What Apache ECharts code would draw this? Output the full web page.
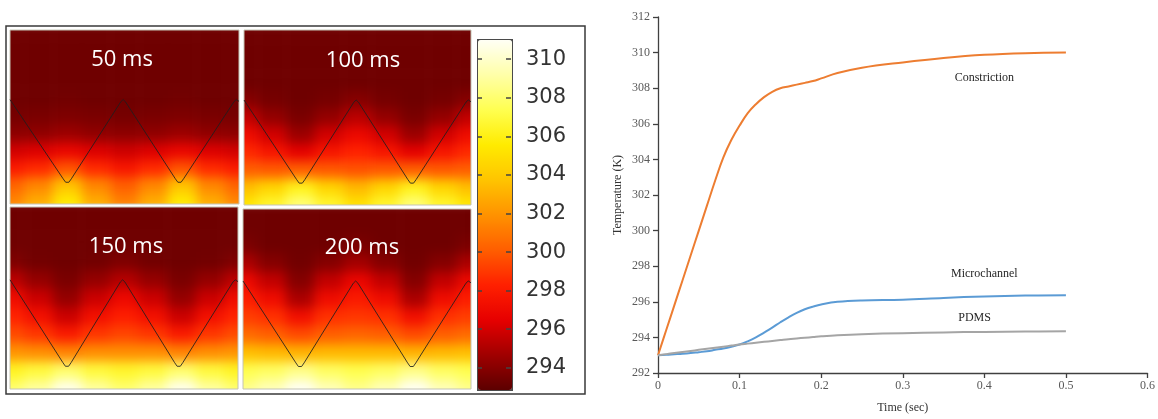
<!DOCTYPE html>
<html>
<head>
<meta charset="utf-8">
<title>Temperature</title>
<script src="https://cdn.jsdelivr.net/npm/echarts@6/dist/echarts.min.js"></script>
<style>
  html, body { margin: 0; padding: 0; background: #fff; }
  #page { position: relative; width: 1158px; height: 419px; overflow: hidden; }
  .panel { position: absolute; overflow: hidden; }
  .panel .heat { position: absolute; filter: blur(6px); }
  #main { position: absolute; left: 0; top: 0; width: 1158px; height: 419px; }
</style>
</head>
<body>
<div id="page">
  <div id="panels"></div>
  <div id="main"></div>
</div>
<script>
// ---- data ----
var tempMin = 292.9, tempMax = 311.05;
var tempColors = ['#5c0000', '#a00000', '#e60000', '#ff2000', '#ff5e00', '#ff9200',
                  '#ffc400', '#ffeb00', '#ffff50', '#ffffa8', '#fffff5'];
var colorbarTicks = [294, 296, 298, 300, 302, 304, 306, 308, 310];

var panelLabels = ['50 ms', '100 ms', '150 ms', '200 ms'];
var fieldCols = ['0', '0.125', '0.25', '0.375', '0.5', '0.625', '0.75', '0.875', '1'];
var fieldRows = ['0', '0.1', '0.2', '0.3', '0.4', '0.5', '0.6', '0.7', '0.8', '0.9', '1'];

// temperature (K), rows top -> bottom
var field50 = [
  [293.4, 293.4, 293.4, 293.4, 293.4, 293.4, 293.4, 293.4, 293.4],
  [293.4, 293.4, 293.4, 293.4, 293.4, 293.4, 293.4, 293.4, 293.4],
  [293.4, 293.4, 293.4, 293.4, 293.4, 293.4, 293.4, 293.4, 293.4],
  [293.4, 293.4, 293.4, 293.4, 293.4, 293.4, 293.4, 293.4, 293.4],
  [293.4, 293.4, 293.5, 293.4, 293.4, 293.4, 293.5, 293.4, 293.4],
  [293.6, 293.7, 293.8, 293.7, 293.6, 293.7, 293.8, 293.7, 293.6],
  [294.2, 294.3, 294.6, 294.3, 294.2, 294.3, 294.6, 294.3, 294.2],
  [296.0, 296.3, 296.8, 296.3, 295.9, 296.3, 296.8, 296.3, 296.0],
  [298.0, 298.6, 299.8, 298.6, 297.8, 298.6, 299.8, 298.6, 298.0],
  [300.4, 301.6, 303.8, 301.6, 300.2, 301.6, 303.8, 301.6, 300.4],
  [301.6, 303.0, 305.6, 303.0, 301.4, 303.0, 305.6, 303.0, 301.6]
];
var field100 = [
  [293.4, 293.4, 293.4, 293.4, 293.4, 293.4, 293.4, 293.4, 293.4],
  [293.4, 293.4, 293.4, 293.4, 293.4, 293.4, 293.4, 293.4, 293.4],
  [293.4, 293.4, 293.4, 293.4, 293.4, 293.4, 293.4, 293.4, 293.4],
  [293.4, 293.4, 293.4, 293.4, 293.4, 293.4, 293.4, 293.4, 293.4],
  [294.0, 293.6, 293.4, 293.6, 294.0, 293.6, 293.4, 293.6, 294.0],
  [295.6, 294.4, 293.7, 294.4, 295.4, 294.4, 293.7, 294.4, 295.6],
  [297.2, 296.0, 294.6, 296.0, 297.0, 296.0, 294.6, 296.0, 297.2],
  [298.6, 297.8, 296.6, 297.8, 298.4, 297.8, 296.6, 297.8, 298.6],
  [300.2, 300.0, 300.2, 300.0, 299.8, 300.0, 300.2, 300.0, 300.2],
  [303.6, 304.6, 306.2, 304.6, 303.4, 304.6, 306.2, 304.6, 303.6],
  [305.4, 306.6, 308.2, 306.6, 305.2, 306.6, 308.2, 306.6, 305.4]
];
var field150 = [
  [293.4, 293.4, 293.4, 293.4, 293.4, 293.4, 293.4, 293.4, 293.4],
  [293.4, 293.4, 293.4, 293.4, 293.4, 293.4, 293.4, 293.4, 293.4],
  [293.4, 293.4, 293.4, 293.4, 293.4, 293.4, 293.4, 293.4, 293.4],
  [293.8, 293.5, 293.4, 293.5, 293.8, 293.5, 293.4, 293.5, 293.8],
  [295.4, 294.4, 293.7, 294.4, 295.2, 294.4, 293.7, 294.4, 295.4],
  [297.2, 295.8, 294.4, 295.8, 297.0, 295.8, 294.4, 295.8, 297.2],
  [298.4, 297.4, 295.8, 297.4, 298.2, 297.4, 295.8, 297.4, 298.4],
  [299.6, 299.0, 298.0, 299.0, 299.4, 299.0, 298.0, 299.0, 299.6],
  [302.0, 301.8, 301.4, 301.8, 301.8, 301.8, 301.4, 301.8, 302.0],
  [306.4, 307.0, 308.0, 307.0, 306.6, 307.0, 308.0, 307.0, 306.4],
  [308.0, 309.0, 310.8, 309.0, 308.0, 309.0, 310.8, 309.0, 308.0]
];
var field200 = [
  [293.4, 293.4, 293.4, 293.4, 293.4, 293.4, 293.4, 293.4, 293.4],
  [293.4, 293.4, 293.4, 293.4, 293.4, 293.4, 293.4, 293.4, 293.4],
  [293.7, 293.4, 293.4, 293.4, 293.7, 293.4, 293.4, 293.4, 293.7],
  [295.0, 294.0, 293.5, 294.0, 294.8, 294.0, 293.5, 294.0, 295.0],
  [297.0, 295.6, 294.0, 295.6, 296.8, 295.6, 294.0, 295.6, 297.0],
  [298.2, 297.2, 295.0, 297.2, 298.0, 297.2, 295.0, 297.2, 298.2],
  [299.2, 298.8, 297.4, 298.8, 299.0, 298.8, 297.4, 298.8, 299.2],
  [300.6, 300.2, 299.6, 300.2, 300.4, 300.2, 299.6, 300.2, 300.6],
  [303.6, 303.4, 303.2, 303.4, 303.4, 303.4, 303.2, 303.4, 303.6],
  [307.4, 307.8, 308.6, 307.8, 307.4, 307.8, 308.6, 307.8, 307.4],
  [308.6, 309.6, 311.0, 309.6, 308.6, 309.6, 311.0, 309.6, 308.6]
];
var fields = [field50, field100, field150, field200];

// zig-zag channel outline, panel fractions (y measured from the top)
var channelX = [0, 0.232, 0.243, 0.250, 0.257, 0.268, 0.484, 0.494, 0.504,
                0.722, 0.733, 0.740, 0.747, 0.758, 0.978, 0.988, 1.0];
var channelY = [0.400, 0.855, 0.875, 0.880, 0.875, 0.855, 0.412, 0.400, 0.412,
                0.855, 0.875, 0.880, 0.875, 0.855, 0.412, 0.400, 0.410];

// line chart
var timeSec = [0, 0.01, 0.02, 0.03, 0.04, 0.05, 0.06, 0.07, 0.08, 0.09, 0.10, 0.11, 0.12, 0.13,
               0.14, 0.15, 0.16, 0.17, 0.18, 0.19, 0.20, 0.22, 0.25, 0.30, 0.35, 0.40, 0.45, 0.50];
var constriction = [293.0, 294.4, 295.8, 297.2, 298.6, 300.0, 301.4, 302.8, 304.1, 305.1, 305.9, 306.6,
                    307.1, 307.5, 307.8, 308.0, 308.1, 308.2, 308.3, 308.4, 308.55, 308.85, 309.15,
                    309.45, 309.7, 309.88, 309.97, 310.0];
var microchannel = [293.0, 293.02, 293.05, 293.08, 293.12, 293.17, 293.22, 293.3, 293.38, 293.48, 293.6,
                    293.78, 294.0, 294.27, 294.55, 294.85, 295.13, 295.38, 295.58, 295.73, 295.85,
                    296.0, 296.08, 296.12, 296.22, 296.3, 296.35, 296.37];
var pdms = [293.0, 293.06, 293.12, 293.18, 293.24, 293.3, 293.36, 293.42, 293.48, 293.54, 293.6,
            293.65, 293.7, 293.75, 293.8, 293.85, 293.9, 293.94, 293.98, 294.02, 294.06,
            294.12, 294.18, 294.24, 294.28, 294.31, 294.33, 294.35];
var seriesNames = ['Constriction', 'Microchannel', 'PDMS'];
var seriesColors = ['#ed7d31', '#5b9bd5', '#a5a5a5'];

// ---- layout ----
var panelBoxes = [[10, 30, 229, 174], [244, 30, 227, 175], [10, 207, 228, 182], [243, 209, 228, 180]];
var labelPos = [[122, 60], [363, 61], [126, 247], [362, 248]];
var nameAt = [[0.4, 308.57], [0.4, 297.56], [0.388, 295.1]];
var serif = 'Liberation Serif';

// ---- heat panels (one small chart each, softened by a css blur) ----
var holder = document.getElementById('panels');
panelBoxes.forEach(function (b, i) {
  var wrap = document.createElement('div');
  wrap.className = 'panel';
  wrap.style.left = b[0] + 'px';
  wrap.style.top = b[1] + 'px';
  wrap.style.width = b[2] + 'px';
  wrap.style.height = b[3] + 'px';
  var heat = document.createElement('div');
  heat.className = 'heat';
  heat.style.left = (-b[2] / 16) + 'px';
  heat.style.top = (-b[3] / 20) + 'px';
  heat.style.width = (b[2] * 9 / 8) + 'px';
  heat.style.height = (b[3] * 11 / 10) + 'px';
  wrap.appendChild(heat);
  holder.appendChild(wrap);

  var cells = [];
  fields[i].forEach(function (row, r) {
    row.forEach(function (v, c) { cells.push([c, r, v]); });
  });
  var chart = echarts.init(heat);
  chart.setOption({
    animation: false,
    grid: { left: 0, right: 0, top: 0, bottom: 0 },
    xAxis: { type: 'category', data: fieldCols, show: false },
    yAxis: { type: 'category', data: fieldRows, inverse: true, show: false },
    visualMap: { show: false, min: tempMin, max: tempMax, inRange: { color: tempColors } },
    series: [{ type: 'heatmap', data: cells, silent: true }]
  });
});

// ---- overlay: channel lines, labels, colorbar, line chart ----
var main = echarts.init(document.getElementById('main'));

var grids = [{ left: 658, right: 7, top: 17, bottom: 46 }];
var xAxes = [{
  type: 'value', gridIndex: 0, min: 0, max: 0.6, interval: 0.1,
  name: 'Time (sec)', nameLocation: 'middle', nameGap: 29,
  nameTextStyle: { fontFamily: serif, fontSize: 12, color: '#333' },
  axisLine: { lineStyle: { color: '#404040', width: 1.3 } },
  axisTick: { show: true, length: 5, lineStyle: { color: '#404040', width: 1.3 } },
  axisLabel: { fontFamily: serif, fontSize: 12, color: '#595959', margin: 7 },
  splitLine: { show: false }
}];
var yAxes = [{
  type: 'value', gridIndex: 0, min: 292, max: 312, interval: 2,
  name: 'Temperature (K)', nameLocation: 'middle', nameGap: 34, nameRotate: 90,
  nameTextStyle: { fontFamily: serif, fontSize: 12, color: '#333' },
  axisLine: { show: true, lineStyle: { color: '#404040', width: 1.3 } },
  axisTick: { show: true, length: 5, lineStyle: { color: '#404040', width: 1.3 } },
  axisLabel: { fontFamily: serif, fontSize: 12, color: '#595959', margin: 8 },
  splitLine: { show: false }
}];
var series = [];
var graphics = [{
  type: 'rect', shape: { x: 6, y: 26, width: 579, height: 368 },
  style: { fill: 'none', stroke: '#3a3a3a', lineWidth: 1.5 }, silent: true
}];

panelBoxes.forEach(function (b, i) {
  grids.push({ left: b[0], top: b[1], width: b[2], height: b[3], show: true,
               borderColor: '#c4c4b4', borderWidth: 1, backgroundColor: 'transparent' });
  xAxes.push({ type: 'value', gridIndex: i + 1, min: 0, max: 1, show: false });
  yAxes.push({ type: 'value', gridIndex: i + 1, min: 0, max: 1, inverse: true, show: false });
  series.push({
    type: 'line', xAxisIndex: i + 1, yAxisIndex: i + 1, silent: true,
    symbol: 'none', data: channelX.map(function (x, k) { return [x, channelY[k]]; }),
    lineStyle: { color: '#1e1e1e', width: 1, opacity: 0.85 }
  });
  graphics.push({
    type: 'text', x: labelPos[i][0], y: labelPos[i][1], silent: true,
    style: { text: panelLabels[i], fill: '#fff', font: '22px "Open Sans"',
             textAlign: 'center', textVerticalAlign: 'middle' }
  });
});

// colorbar axes sit on top of the visualMap bar
grids.push({ left: 477, top: 39, width: 34, height: 350 });
xAxes.push({ type: 'value', gridIndex: 5, show: false });
function barAxis(side, showLabel) {
  return {
    type: 'value', gridIndex: 5, min: tempMin, max: tempMax, z: 10, position: side,
    axisLine: { show: false }, splitLine: { show: false },
    axisTick: { show: true, inside: true, length: 5, customValues: colorbarTicks,
                lineStyle: { color: '#444', width: 1.5 } },
    axisLabel: { show: true, customValues: colorbarTicks, margin: 15,
                 fontFamily: 'DejaVu Sans', fontSize: 21,
                 color: showLabel ? '#333' : 'rgba(0,0,0,0)' }
  };
}
yAxes.push(barAxis('left', false));
yAxes.push(barAxis('right', true));

[constriction, microchannel, pdms].forEach(function (vals, i) {
  series.push({
    name: seriesNames[i], type: 'line', xAxisIndex: 0, yAxisIndex: 0,
    symbol: 'none', smooth: 0.4,
    data: timeSec.map(function (t, k) { return [t, vals[k]]; }),
    lineStyle: { color: seriesColors[i], width: 2 },
    itemStyle: { color: seriesColors[i] },
    markPoint: {
      symbol: 'rect', symbolSize: 1, silent: true,
      itemStyle: { color: 'rgba(0,0,0,0)' },
      label: { show: true, position: 'inside', formatter: seriesNames[i],
               fontFamily: serif, fontSize: 12, color: '#262626' },
      data: [{ coord: nameAt[i] }]
    }
  });
});

main.setOption({
  animation: false,
  grid: grids,
  xAxis: xAxes,
  yAxis: yAxes,
  visualMap: {
    type: 'continuous', seriesIndex: [], min: tempMin, max: tempMax,
    calculable: false, hoverLink: false, left: 477, top: 39, z: 2,
    itemWidth: 34, itemHeight: 350, padding: 0,
    borderColor: '#4a4a4a', borderWidth: 2,
    inRange: { color: tempColors }
  },
  graphic: graphics,
  series: series
});
</script>
</body>
</html>
